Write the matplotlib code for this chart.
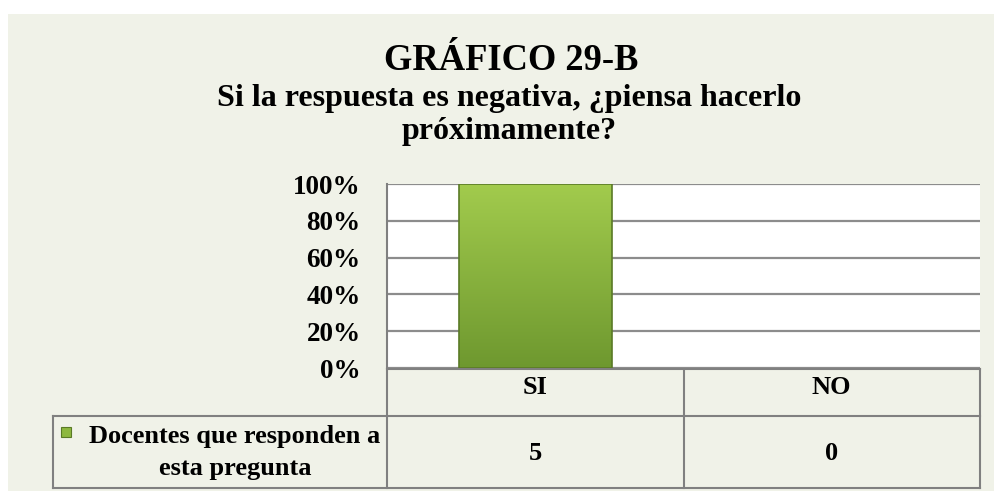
import matplotlib
matplotlib.use('Agg')
import matplotlib.pyplot as plt
import numpy as np
from matplotlib.patches import Rectangle
from matplotlib.colors import LinearSegmentedColormap

plt.rcParams['font.family'] = ['Liberation Serif', 'DejaVu Serif']
plt.rcParams['font.weight'] = 'bold'

title = 'GRÁFICO 29-B'
subtitle = 'Si la respuesta es negativa, ¿piensa hacerlo\npróximamente?'
categories = ['SI', 'NO']
counts = [5, 0]
series_name = 'Docentes que responden a\nesta pregunta'
yticks = [0, 20, 40, 60, 80, 100]

total = sum(counts)
percents = [100 * c / total for c in counts]

W, H = 995, 491
bg = '#F0F2E8'
line_gray = '#808080'
green_dark = '#6E982F'
green_light = '#A2CB4D'

fig = plt.figure(figsize=(W / 100, H / 100), dpi=100)
fig.patch.set_facecolor('white')

# overlay axes in pixel units (y down) for background, titles and the data table
lay = fig.add_axes([0, 0, 1, 1], zorder=0)
lay.set_xlim(0, W)
lay.set_ylim(H, 0)
lay.axis('off')
lay.add_patch(Rectangle((8, 14), W - 8, H - 14, facecolor=bg, edgecolor='none'))

lay.text(511, 70, title, ha='center', va='baseline', fontsize=26.3)
for i, line in enumerate(subtitle.split('\n')):
    lay.text(509, 106 + 33 * i, line, ha='center', va='baseline', fontsize=23)

# plot area
ax = fig.add_axes([387 / W, (H - 368) / H, (980 - 387) / W, (368 - 184) / H],
                  zorder=1)
ax.set_facecolor('white')
x = np.arange(len(categories))
bars = ax.bar(x, percents, width=0.515, facecolor='none',
              edgecolor='#5A7A26', linewidth=1.2, zorder=4)

grad = np.linspace(1, 0, 256).reshape(-1, 1)
cmap = LinearSegmentedColormap.from_list('bar_green', [green_dark, green_light])
for b in bars:
    if b.get_height() <= 0:
        b.set_visible(False)
        continue
    x0, w, h = b.get_x(), b.get_width(), b.get_height()
    im = ax.imshow(grad, cmap=cmap, extent=(x0, x0 + w, 0, h),
                   aspect='auto', origin='upper', zorder=3)
    im.set_clip_path(b)

ax.set_xlim(-0.5, len(categories) - 0.5)
ax.set_ylim(0, 100)
ax.set_yticks(yticks)
ax.set_yticklabels([f'{v}%' for v in yticks])
ax.set_xticks([])
ax.tick_params(axis='y', length=0, pad=19, labelsize=19.5)
ax.yaxis.grid(True, color='#8C8C8C', linewidth=1.6)
ax.set_axisbelow(True)
for side in ['top', 'right', 'bottom']:
    ax.spines[side].set_visible(False)
ax.spines['left'].set_color(line_gray)
ax.spines['left'].set_linewidth(1.5)

# data table under the plot, columns follow the category slots
edges = [ax.transData.transform((i - 0.5, 0))[0] for i in range(len(categories) + 1)]
centers = [(edges[i] + edges[i + 1]) / 2 for i in range(len(categories))]
row_top, row_mid, row_bot = 369, 416, 488
label_left = 53

kw = dict(color=line_gray, linewidth=1.5, zorder=2)
lay.plot([edges[0], edges[-1]], [row_top, row_top], **kw)
lay.plot([label_left, edges[-1]], [row_mid, row_mid], **kw)
lay.plot([label_left, edges[-1]], [row_bot, row_bot], **kw)
lay.plot([label_left, label_left], [row_mid, row_bot], **kw)
for e in edges:
    lay.plot([e, e], [row_top, row_bot], **kw)

for cx, cat, n in zip(centers, categories, counts):
    lay.text(cx, 387, cat, ha='center', va='center', fontsize=19)
    lay.text(cx, 454, str(n), ha='center', va='center', fontsize=19)

lay.add_patch(Rectangle((61, 427), 10, 10, facecolor='#8DB83F',
                        edgecolor='#5A7A26', linewidth=0.8))
lay.text(235, 452, series_name, ha='center', va='center',
         fontsize=19, linespacing=1.5)

fig.savefig('out.png', dpi=100, facecolor=fig.get_facecolor())
